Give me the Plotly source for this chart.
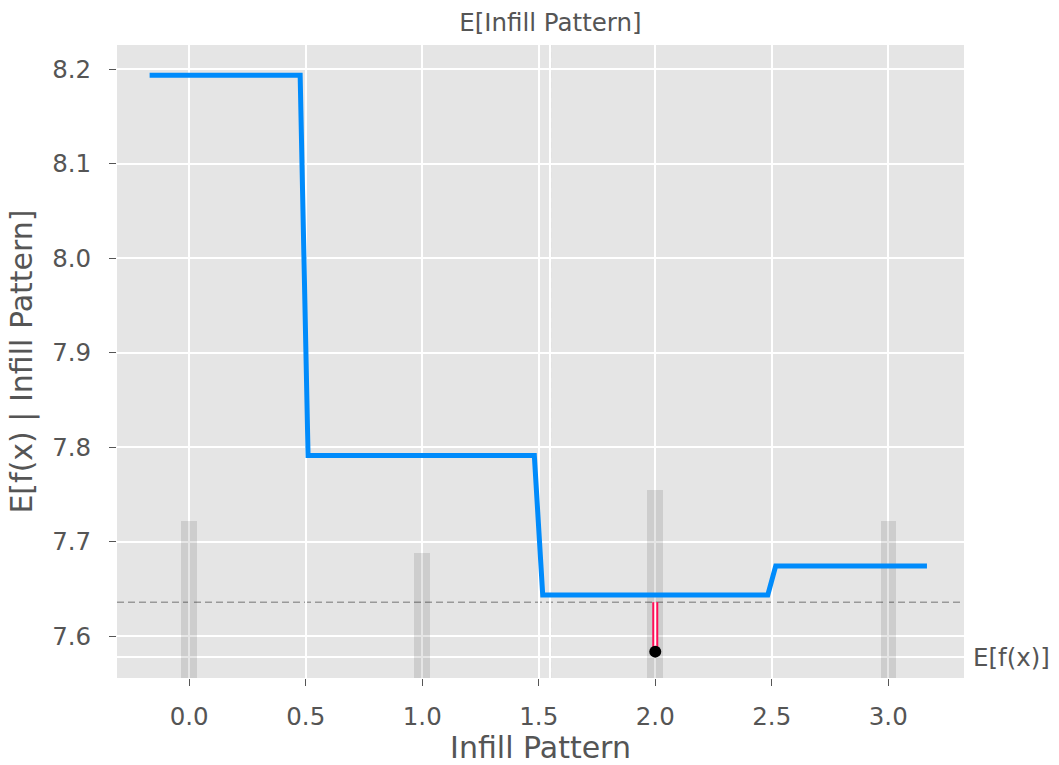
import numpy as np
import plotly.graph_objects as go

# ---- data ----
feature_name = "Infill Pattern"
pdp_x = [-0.17, 0.476, 0.510, 1.481, 1.517, 2.483, 2.517, 3.166]
pdp_y = [8.1937, 8.1937, 7.7913, 7.7913, 7.6439, 7.6439, 7.6746, 7.6746]
hist_x = [0, 1, 2, 3]
hist_counts = [5, 4, 6, 5]
base_value = 7.6362          # E[f(x)]
sample_x = 2.0
sample_y = 7.5839
x_ticks = [0.0, 0.5, 1.0, 1.5, 2.0, 2.5, 3.0]
y_ticks = [7.6, 7.7, 7.8, 7.9, 8.0, 8.1, 8.2]
x_range = [-0.31, 3.325]
y_range = [7.556, 8.2257]
ef_axis_range = [7.6164, 8.2212]
hist_axis_range = [0, 20.2]

mean_x = float(np.average(hist_x, weights=hist_counts))

BG = "#E5E5E5"
TXT = "#555555"
BLUE = "#008bfb"
RED = "#ff0d57"
FONT = "DejaVu Sans"

fig = go.Figure()

# histogram (main subplot, hidden axis)
fig.add_trace(go.Bar(x=hist_x, y=hist_counts, width=0.0667,
                     marker=dict(color="rgba(0,0,0,0.1)", line=dict(width=0)),
                     xaxis="x", yaxis="y", showlegend=False, hoverinfo="skip"))

# partial dependence line
fig.add_trace(go.Scatter(x=pdp_x, y=pdp_y, mode="lines",
                         line=dict(color=BLUE, width=5),
                         xaxis="x", yaxis="y2", showlegend=False))

# sample shap line from base value to prediction
fig.add_trace(go.Scatter(x=[sample_x, sample_x], y=[base_value, sample_y], mode="lines",
                         line=dict(color=RED, width=6),
                         xaxis="x", yaxis="y2", showlegend=False))
fig.add_trace(go.Scatter(x=[sample_x, sample_x], y=[base_value, sample_y], mode="lines",
                         line=dict(color="white", width=2),
                         xaxis="x", yaxis="y2", showlegend=False))
fig.add_trace(go.Scatter(x=[sample_x], y=[sample_y], mode="markers",
                         marker=dict(color="black", size=12),
                         xaxis="x", yaxis="y2", showlegend=False))

# invisible anchors so the secondary axes (top E[x], right E[f(x)]) are drawn
fig.add_trace(go.Scatter(x=[mean_x], y=[0], mode="none", xaxis="x2", yaxis="y",
                         showlegend=False, hoverinfo="skip"))
fig.add_trace(go.Scatter(x=[mean_x], y=[base_value], mode="none", xaxis="x", yaxis="y3",
                         showlegend=False, hoverinfo="skip"))

# reference lines
fig.add_shape(type="line", xref="paper", x0=0, x1=1, yref="y2", y0=base_value, y1=base_value,
              line=dict(color="#999999", width=1.6, dash="7px,4px"), layer="between")
fig.add_shape(type="line", xref="x", x0=mean_x, x1=mean_x, yref="paper", y0=0, y1=1,
              line=dict(color="rgba(153,153,153,0.35)", width=1.5, dash="6px,4px"), layer="between")

tickfont = dict(family=FONT, size=24.5, color=TXT)
titlefont = dict(family=FONT, size=30, color=TXT)

fig.update_layout(
    width=1059, height=765,
    paper_bgcolor="white", plot_bgcolor=BG,
    margin=dict(l=117, r=95, t=45, b=87, pad=0),
    font=dict(family=FONT, color=TXT),
    bargap=0,
    xaxis=dict(range=x_range, tickvals=x_ticks, ticktext=[f"{v:.1f}" for v in x_ticks],
               showgrid=True, gridcolor="white", gridwidth=1.8, zeroline=False,
               ticks="outside", ticklen=7, tickwidth=1.3, tickcolor=TXT,
               tickfont=tickfont, ticklabelstandoff=10,
               title=dict(text=feature_name, font=titlefont, standoff=3),
               showline=False, automargin=False, anchor="y"),
    xaxis2=dict(range=x_range, overlaying="x", side="top", anchor="y",
                tickvals=[mean_x], ticktext=[f"E[{feature_name}]"],
                showgrid=True, gridcolor="white", gridwidth=1.8, zeroline=False,
                ticks="", tickfont=tickfont, ticklabelstandoff=8,
                showline=False, automargin=False),
    yaxis=dict(range=hist_axis_range, visible=False, showgrid=False, zeroline=False,
               fixedrange=True),
    yaxis2=dict(range=y_range, overlaying="y", side="left", anchor="x",
                tickvals=y_ticks, ticktext=[f"{v:.1f}" for v in y_ticks],
                showgrid=True, gridcolor="white", gridwidth=1.8, zeroline=False,
                ticks="outside", ticklen=7, tickwidth=1.3, tickcolor=TXT,
                tickfont=tickfont, ticklabelstandoff=13,
                title=dict(text=f"E[f(x) | {feature_name}]", font=titlefont, standoff=10),
                showline=False, automargin=False),
    yaxis3=dict(range=ef_axis_range, overlaying="y", side="right", anchor="x",
                tickvals=[base_value], ticktext=["E[f(x)]"],
                showgrid=True, gridcolor="white", gridwidth=1.8, zeroline=False,
                ticks="", tickfont=tickfont, ticklabelstandoff=8,
                showline=False, automargin=False),
)

fig.write_html("out.html")
